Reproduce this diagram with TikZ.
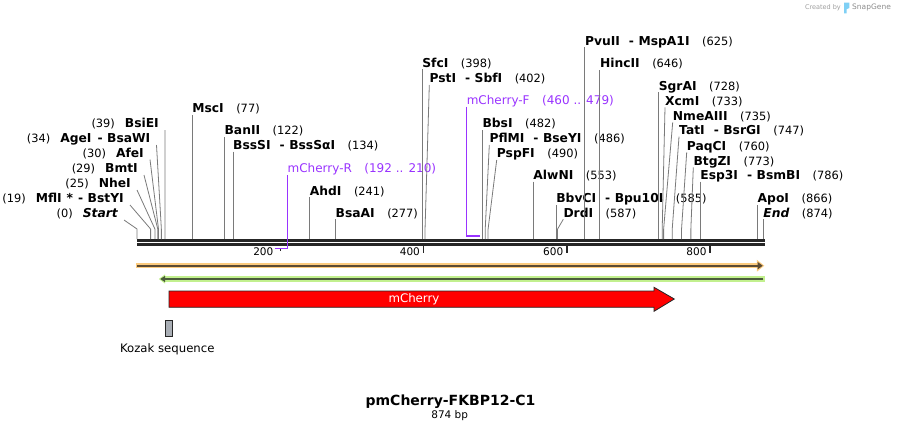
\documentclass[tikz,border=0pt]{standalone}
\usepackage{fontspec}
\setmainfont{DejaVu Sans}
\usetikzlibrary{arrows.meta}

\definecolor{cutgrey}{HTML}{7A7A7A}
\definecolor{bonecol}{HTML}{262626}
\definecolor{primerpurple}{HTML}{9933FF}
\definecolor{featorange}{HTML}{FCCB7E}
\definecolor{featgreen}{HTML}{C2F08E}
\definecolor{orangedark}{HTML}{5B4B34}
\definecolor{greendark}{HTML}{4B5B3B}
\definecolor{kozakgrey}{HTML}{A9AEB5}
\definecolor{logoblue}{HTML}{7FD0F5}

% bp -> x position on the map
\newcommand{\bpx}[1]{137+0.7165*#1}
\newcommand{\labfont}{\fontsize{11.4}{13}\selectfont}
\newcommand{\nm}[1]{{\fontsize{12.3}{14}\selectfont\bfseries #1}}
\newcommand{\numgap}{\hspace{12.5pt}}
\newcommand{\cutsep}{\hspace{9pt}-\hspace{4.5pt}}

\begin{document}
\begin{tikzpicture}[x=1pt,y=-1pt,
  rlab/.style={anchor=south west,inner xsep=0pt,inner ysep=0pt,text height=8pt,text depth=2pt,font=\labfont},
  llab/.style={rlab,anchor=south east,inner xsep=6pt},
  plab/.style={rlab,text=primerpurple,font=\fontsize{12}{14}\selectfont},
  cut/.style={draw=cutgrey,line width=0.8pt,to path={-- ([yshift=10pt]\tikztotarget) -- (\tikztotarget)}},
  primer/.style={draw=primerpurple,line width=1.6pt},
  bone/.style={draw=bonecol,line width=2.8pt},
  tick/.style={draw=bonecol,line width=1.6pt},
  ticklab/.style={anchor=east,inner sep=0pt,font=\fontsize{10.5}{12}\selectfont}
]
\useasboundingbox (0,0) rectangle (901,431);

% backbone
\draw[bone] (137,240.3) -- (765,240.3);
\draw[bone] (137,244.2) -- (765,244.2);

% ticks
\draw[tick] ({\bpx{200}},248) -- ++(0,2.5);
\node[ticklab] (t200) at (273.5,252) {200};
\foreach \t in {400,600,800} {
  \draw[tick] ({\bpx{\t}},246) -- ++(0,7);
  \node[ticklab] (t\t) at ({\bpx{\t}-3.5},252) {\t};
}

% sites on the backbone
\coordinate (start-s) at (137,239);
\coordinate (mfli-s) at ({\bpx{19}},239);
\coordinate (nhei-s) at ({\bpx{25}},239);
\coordinate (bmti-s) at ({\bpx{29}},239);
\coordinate (afei-s) at ({\bpx{30}},239);
\coordinate (agei-s) at ({\bpx{34}},239);
\coordinate (bsiei-s) at ({\bpx{39}},239);
\coordinate (msci-s) at ({\bpx{77}},239);
\coordinate (banii-s) at ({\bpx{122}},239);
\coordinate (bsssi-s) at ({\bpx{134}},239);
\coordinate (ahdi-s) at ({\bpx{241}},239);
\coordinate (bsaai-s) at ({\bpx{277}},239);
\coordinate (sfci-s) at ({\bpx{398}},239);
\coordinate (psti-s) at ({\bpx{402}},239);
\coordinate (bbsi-s) at ({\bpx{482}},239);
\coordinate (pflmi-s) at ({\bpx{486}},239);
\coordinate (pspfi-s) at ({\bpx{490}},239);
\coordinate (alwni-s) at ({\bpx{553}},239);
\coordinate (bbvci-s) at ({\bpx{585}},239);
\coordinate (drdi-s) at ({\bpx{587}},239);
\coordinate (pvuii-s) at ({\bpx{625}},239);
\coordinate (hincii-s) at ({\bpx{646}},239);
\coordinate (sgrai-s) at ({\bpx{728}},239);
\coordinate (xcmi-s) at ({\bpx{733}},239);
\coordinate (nmeaiii-s) at ({\bpx{735}},239);
\coordinate (tati-s) at ({\bpx{747}},239);
\coordinate (paqci-s) at ({\bpx{760}},239);
\coordinate (btgzi-s) at ({\bpx{773}},239);
\coordinate (esp3i-s) at ({\bpx{786}},239);
\coordinate (apoi-s) at ({\bpx{866}},239);
\coordinate (endlab-s) at ({\bpx{874}},239);

% left labels
\node[llab] (startlab) at (124,220) {(0)\hspace{10pt}\nm{\itshape Start}};
\node[llab] (mfli) at (130,205) {(19)\hspace{10pt}\nm{MflI\hspace{5pt}*\hspace{5pt}-\hspace{4.5pt}BstYI}};
\node[llab] (nhei) at (137,190) {(25)\hspace{10pt}\nm{NheI}};
\node[llab] (bmti) at (144,175) {(29)\hspace{10pt}\nm{BmtI}};
\node[llab] (afei) at (150,159.5) {(30)\hspace{10pt}\nm{AfeI}};
\node[llab] (agei) at (156.5,145) {(34)\hspace{10pt}\nm{AgeI\hspace{6pt}-\hspace{4.5pt}BsaWI}};
\node[llab] (bsiei) at (165,130) {(39)\hspace{10pt}\nm{BsiEI}};

% right labels
\node[rlab] (msci) at ({\bpx{77}},115) {\nm{MscI}\numgap(77)};
\node[rlab] (banii) at ({\bpx{122}},137) {\nm{BanII}\numgap(122)};
\node[rlab] (bsssi) at ({\bpx{134}},151.7) {\nm{BssSI\cutsep BssSαI}\numgap(134)};
\node[plab] (mcr) at ({\bpx{210}},175) {mCherry-R\numgap(192 .. 210)};
\node[rlab] (ahdi) at ({\bpx{241}},197.3) {\nm{AhdI}\numgap(241)};
\node[rlab] (bsaai) at ({\bpx{277}},219.3) {\nm{BsaAI}\numgap(277)};
\node[rlab] (sfci) at ({\bpx{398}},69.3) {\nm{SfcI}\numgap(398)};
\node[rlab] (psti) at (429.3,85) {\nm{PstI\cutsep SbfI}\numgap(402)};
\node[plab] (mcf) at ({\bpx{460}},106.7) {mCherry-F\numgap(460 .. 479)};
\node[rlab] (bbsi) at ({\bpx{482}},130) {\nm{BbsI}\numgap(482)};
\node[rlab] (pflmi) at (489.3,145) {\nm{PflMI\cutsep BseYI}\numgap(486)};
\node[rlab] (pspfi) at (496.7,160) {\nm{PspFI}\numgap(490)};
\node[rlab] (alwni) at ({\bpx{553}},181.7) {\nm{AlwNI}\numgap(553)};
\node[rlab] (bbvci) at ({\bpx{585}},205) {\nm{BbvCI\cutsep Bpu10I}\numgap(585)};
\node[rlab] (drdi) at (563.3,219.3) {\nm{DrdI}\numgap(587)};
\node[rlab] (pvuii) at ({\bpx{625}},47.3) {\nm{PvuII\cutsep MspA1I}\numgap(625)};
\node[rlab] (hincii) at ({\bpx{646}},70) {\nm{HincII}\numgap(646)};
\node[rlab] (sgrai) at ({\bpx{728}},92.3) {\nm{SgrAI}\numgap(728)};
\node[rlab] (xcmi) at (665,107.3) {\nm{XcmI}\numgap(733)};
\node[rlab] (nmeaiii) at (672.7,122.3) {\nm{NmeAIII}\numgap(735)};
\node[rlab] (tati) at (679,136.7) {\nm{TatI\cutsep BsrGI}\numgap(747)};
\node[rlab] (paqci) at (686.7,152.3) {\nm{PaqCI}\numgap(760)};
\node[rlab] (btgzi) at (693.3,167.3) {\nm{BtgZI}\numgap(773)};
\node[rlab] (esp3i) at ({\bpx{786}},181.7) {\nm{Esp3I\cutsep BsmBI}\numgap(786)};
\node[rlab] (apoi) at ({\bpx{866}},205) {\nm{ApoI}\numgap(866)};
\node[rlab] (endlab) at ({\bpx{874}},219.3) {\nm{\itshape End}\numgap(874)};

\path (startlab.south east) edge[cut] (start-s)
(mfli.south east) edge[cut] (mfli-s)
(nhei.south east) edge[cut] (nhei-s)
(bmti.south east) edge[cut] (bmti-s)
(afei.south east) edge[cut] (afei-s)
(agei.south east) edge[cut] (agei-s)
(bsiei.south east) edge[cut] (bsiei-s)
(msci.south west) edge[cut] (msci-s)
(banii.south west) edge[cut] (banii-s)
(bsssi.south west) edge[cut] (bsssi-s)
(ahdi.south west) edge[cut] (ahdi-s)
(bsaai.south west) edge[cut] (bsaai-s)
(sfci.south west) edge[cut] (sfci-s)
(psti.south west) edge[cut] (psti-s)
(bbsi.south west) edge[cut] (bbsi-s)
(pflmi.south west) edge[cut] (pflmi-s)
(pspfi.south west) edge[cut] (pspfi-s)
(alwni.south west) edge[cut] (alwni-s)
(bbvci.south west) edge[cut] (bbvci-s)
(drdi.south west) edge[cut] (drdi-s)
(pvuii.south west) edge[cut] (pvuii-s)
(hincii.south west) edge[cut] (hincii-s)
(sgrai.south west) edge[cut] (sgrai-s)
(xcmi.south west) edge[cut] (xcmi-s)
(nmeaiii.south west) edge[cut] (nmeaiii-s)
(tati.south west) edge[cut] (tati-s)
(paqci.south west) edge[cut] (paqci-s)
(btgzi.south west) edge[cut] (btgzi-s)
(esp3i.south west) edge[cut] (esp3i-s)
(apoi.south west) edge[cut] (apoi-s)
(endlab.south west) edge[cut] (endlab-s)
;

% primers
\coordinate (mcr-a) at ({\bpx{192}},248.5);
\coordinate (mcr-b) at ({\bpx{210}},248.5);
\coordinate (mcf-a) at ({\bpx{460}},236);
\coordinate (mcf-b) at ({\bpx{479}},236);
\draw[primer] (mcr.south west) -- (mcr-b) -- (mcr-a);
\draw[primer] (mcf.south west) -- (mcf-a) -- (mcf-b);

% features
\draw[line width=5.3pt,featorange,-{Triangle[length=7.5pt,width=11.5pt]}] (136,265.7) -- (764.3,265.7);
\draw[line width=1.8pt,orangedark,-{Triangle[length=5pt,width=7pt]}] (137.3,265.7) -- (762.7,265.7);
\draw[line width=5.3pt,featgreen,-{Triangle[length=6.5pt,width=9pt]}] (764.7,279) -- (158.7,279);
\draw[line width=1.8pt,greendark,-{Triangle[length=4.7pt,width=6pt]}] (763.3,279) -- (160.3,279);

% mCherry
\draw[draw=bonecol,line width=0.8pt,fill=red] (169,291) -- (654,291) -- (654,287.3)
  -- (674.3,299) -- (654,311.3) -- (654,307.3) -- (169,307.3) -- cycle;
\node[font=\fontsize{11.8}{14}\selectfont,text=white] (mcherry) at (414,299) {mCherry};

% Kozak
\draw[draw=bonecol,line width=0.8pt,fill=kozakgrey] (165.7,320) rectangle (172.7,336.7);
\node[font=\fontsize{11.7}{14}\selectfont] (kozak) at (167.3,349.3) {Kozak sequence};

% title
\node[font=\bfseries\fontsize{14}{16}\selectfont,anchor=base] (title) at (450.5,405) {pmCherry-FKBP12-C1};
\node[font=\fontsize{10.5}{12}\selectfont,anchor=base] (size) at (449.7,418) {874 bp};

% credit
\node[font=\fontsize{6.5}{8}\selectfont,text=black!38,anchor=east,inner sep=0pt] (credit) at (841,7.5) {Created by};
\fill[logoblue] (844,2.7) -- (849.3,2.7) -- (849.3,8) -- (846.6,9.2) -- (846.6,13.3) -- (844,13.3) -- cycle;
\node[font=\fontsize{7.5}{9}\selectfont,text=black!45,anchor=west,inner sep=0pt] (snapgene) at (852,7.5) {SnapGene};
\end{tikzpicture}
\end{document}
